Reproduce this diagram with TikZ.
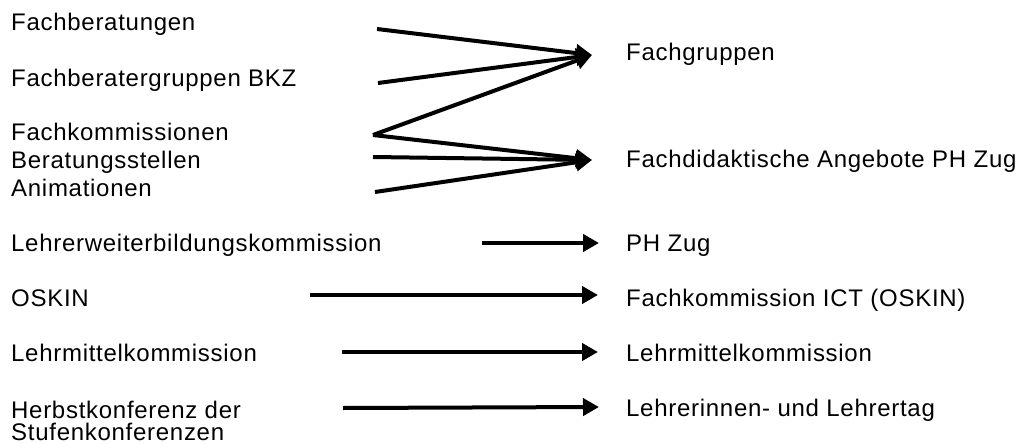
\documentclass[tikz,border=0pt]{standalone}
\usepackage{fontspec}
\setmainfont{Liberation Sans}[LetterSpace=3]
\usepackage{tikz}
\usetikzlibrary{arrows.meta}

\begin{document}
\begin{tikzpicture}[x=1pt, y=-1pt,
  every node/.style={font=\fontsize{24}{28}\selectfont, inner sep=0pt, anchor=base west},
  pfeil/.style={line width=4pt, -{Triangle[length=16pt, width=17pt]}}]
  \useasboundingbox (0,0) rectangle (1022,444);

  % Nodes (left)
  \node (fachber) at (11,31) {Fachberatungen};
  \node (fbgrp) at (11,86.7) {Fachberatergruppen BKZ};
  \node (fachkom) at (11,140.7) {Fachkommissionen};
  \node (berat) at (11,168.3) {Beratungsstellen};
  \node (anim) at (11,196) {Animationen};
  \node (lwb) at (11,251) {Lehrerweiterbildungskommission};
  \node (oskin) at (11,306.7) {OSKIN};
  \node (lmk) at (11,361.7) {Lehrmittelkommission};
  \node[align=left, font=\fontsize{24}{22.5}\selectfont] (herbst) at (11,440.5)
    {Herbstkonferenz der\\Stufenkonferenzen};

  % Nodes (right)
  \node (fgrp) at (626,60) {Fachgruppen};
  \node (fdid) at (626,167.3) {Fachdidaktische Angebote PH Zug};
  \node (phzug) at (626,251.7) {PH Zug};
  \node (ict) at (626,306.7) {Fachkommission ICT (OSKIN)};
  \node (lmk2) at (626,361.7) {Lehrmittelkommission};
  \node (ltag) at (626,416.7) {Lehrerinnen- und Lehrertag};

  % Arrow ends
  \coordinate (fachber-s) at (377,29);
  \coordinate (fbgrp-s) at (378,83);
  \coordinate (fachkom-s) at (373,135);
  \coordinate (berat-s) at (373,157);
  \coordinate (anim-s) at (375,192);
  \coordinate (fgrp-e) at (592,55);
  \coordinate (fdid-e) at (592,160);
  \coordinate (lwb-s) at (482,243);
  \coordinate (phzug-e) at (599,243);
  \coordinate (oskin-s) at (310,295);
  \coordinate (ict-e) at (598,295);
  \coordinate (lmk-s) at (342,352);
  \coordinate (lmk2-e) at (598,352);
  \coordinate (herbst-s) at (343,408);
  \coordinate (ltag-e) at (599,407);

  % Arrows
  \draw[pfeil] (fachber-s) -- (fgrp-e);
  \draw[pfeil] (fbgrp-s) -- (fgrp-e);
  \draw[pfeil] (fachkom-s) -- (fgrp-e);
  \draw[pfeil] (fachkom-s) -- (fdid-e);
  \draw[pfeil] (berat-s) -- (fdid-e);
  \draw[pfeil] (anim-s) -- (fdid-e);
  \draw[pfeil] (lwb-s) -- (phzug-e);
  \draw[pfeil] (oskin-s) -- (ict-e);
  \draw[pfeil] (lmk-s) -- (lmk2-e);
  \draw[pfeil] (herbst-s) -- (ltag-e);
\end{tikzpicture}
\end{document}
